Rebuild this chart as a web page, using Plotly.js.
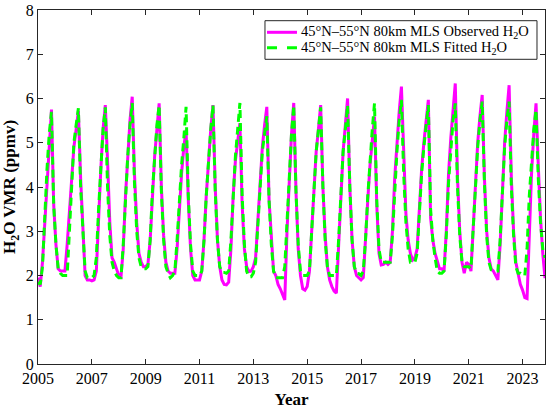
<!DOCTYPE html>
<html>
<head>
<meta charset="utf-8">
<script src="https://cdn.plot.ly/plotly-3.0.1.min.js"></script>
<style>html,body{margin:0;padding:0;background:#fff;}#chart{width:550px;height:410px;}</style>
</head>
<body>
<div id="chart"></div>
<script>
// Monthly values Jan 2005 .. Nov 2023
const startYear = 2005;
const xTickVals = [2005, 2007, 2009, 2011, 2013, 2015, 2017, 2019, 2021, 2023];
const xTickText = ['2005', '2007', '2009', '2011', '2013', '2015', '2017', '2019', '2021', '2023'];
const observed = [
  1.95, 1.75, 2.3, 3.2, 4.2, 5.1, 5.75, 3.6, 2.7, 2.15, 2.1, 2.1,      // 2005
  2.1, 2.7, 3.5, 4.3, 4.9, 5.3, 5.72, 4.2, 2.9, 2.0, 1.9, 1.9,         // 2006
  1.88, 1.9, 2.1, 3.3, 4.4, 5.3, 5.85, 4.6, 3.2, 2.4, 2.3, 2.15,       // 2007
  2.0, 1.97, 2.6, 3.8, 4.8, 5.5, 6.04, 4.3, 3.2, 2.5, 2.3, 2.2,        // 2008
  2.2, 2.25, 2.8, 3.8, 4.7, 5.3, 5.89, 4.0, 2.9, 2.3, 2.1, 2.05,       // 2009
  2.05, 2.05, 2.6, 3.6, 4.3, 4.9, 5.29, 3.7, 2.6, 2.0, 1.9, 1.9,       // 2010
  1.9, 2.1, 2.8, 3.8, 4.7, 5.3, 5.85, 4.0, 2.8, 2.2, 1.9, 1.8,         // 2011
  1.79, 1.85, 2.6, 3.8, 4.6, 5.0, 5.44, 3.6, 2.6, 2.2, 2.09, 2.1,      // 2012
  2.2, 2.4, 3.3, 4.2, 4.9, 5.4, 5.81, 3.7, 2.8, 2.1, 2.0, 1.8,         // 2013
  1.7, 1.55, 1.45, 3.0, 4.3, 5.2, 5.9, 3.9, 2.6, 2.0, 1.7, 1.67,       // 2014
  1.75, 2.1, 3.0, 4.0, 4.8, 5.3, 5.85, 4.0, 2.9, 2.2, 1.9, 1.75,       // 2015
  1.65, 1.6, 2.6, 3.8, 4.8, 5.4, 6.0, 4.0, 2.8, 2.2, 2.0, 1.95,        // 2016
  1.9, 1.95, 2.7, 3.7, 4.5, 5.1, 5.59, 3.6, 2.5, 2.24, 2.25, 2.3,      // 2017
  2.25, 2.3, 3.0, 4.2, 5.0, 5.7, 6.27, 4.6, 3.4, 2.8, 2.5, 2.35,       // 2018
  2.4, 2.6, 3.5, 4.4, 5.0, 5.5, 5.97, 3.3, 2.8, 2.5, 2.3, 2.15,        // 2019
  2.15, 2.1, 3.0, 4.3, 5.1, 5.8, 6.34, 4.2, 3.0, 2.3, 2.05, 2.3,       // 2020
  2.25, 2.1, 3.0, 4.2, 5.0, 5.6, 6.08, 4.2, 3.0, 2.4, 2.15, 2.1,       // 2021
  2.0, 1.9, 2.7, 4.0, 5.0, 5.7, 6.3, 4.2, 3.0, 2.3, 2.05, 1.8,         // 2022
  1.67, 1.5, 1.48, 3.0, 4.3, 5.2, 5.89, 4.5, 3.3, 2.5, 1.94            // 2023
];
const fitted = [
  1.85, 1.8, 2.2, 3.4, 4.4, 5.2, 5.7, 3.6, 2.7, 2.15, 2.05, 2.0,       // 2005
  2.0, 2.0, 3.0, 4.2, 5.0, 5.4, 5.78, 4.0, 2.9, 2.1, 1.95, 1.95,       // 2006
  1.95, 2.0, 2.4, 3.5, 4.5, 5.3, 5.8, 4.0, 2.9, 2.3, 2.1, 2.0,         // 2007
  1.95, 1.95, 2.7, 3.8, 4.7, 5.4, 5.9, 4.1, 3.0, 2.4, 2.2, 2.15,       // 2008
  2.15, 2.2, 2.8, 3.9, 4.7, 5.4, 5.85, 3.9, 2.8, 2.2, 2.05, 1.95,      // 2009
  2.0, 2.1, 2.8, 3.8, 4.5, 5.1, 5.81, 3.8, 2.7, 2.1, 2.0, 2.0,         // 2010
  2.0, 2.1, 2.8, 3.8, 4.7, 5.3, 5.85, 3.9, 2.8, 2.2, 2.07, 2.07,       // 2011
  2.05, 2.1, 2.8, 3.9, 4.7, 5.3, 5.9, 3.8, 2.7, 2.1, 1.97, 1.97,       // 2012
  2.05, 2.3, 3.2, 4.1, 4.8, 5.2, 5.6, 3.7, 2.7, 2.1, 1.95, 1.95,       // 2013
  1.95, 1.95, 2.2, 3.3, 4.4, 5.2, 5.85, 3.9, 2.7, 2.1, 2.0, 2.0,       // 2014
  2.0, 2.1, 3.0, 4.0, 4.8, 5.3, 5.8, 4.0, 2.8, 2.2, 2.0, 2.0,          // 2015
  2.0, 2.0, 2.8, 3.9, 4.8, 5.3, 5.85, 4.0, 2.8, 2.2, 2.05, 2.04,       // 2016
  2.0, 2.1, 2.8, 3.8, 4.6, 5.3, 5.89, 3.7, 2.6, 2.3, 2.3, 2.3,         // 2017
  2.3, 2.3, 2.9, 4.0, 4.8, 5.5, 5.97, 4.3, 3.2, 2.6, 2.3, 2.3,         // 2018
  2.3, 2.5, 3.4, 4.3, 4.9, 5.4, 5.85, 3.5, 2.8, 2.4, 2.1, 2.05,        // 2019
  2.05, 2.1, 2.9, 4.1, 4.9, 5.5, 5.89, 4.0, 2.9, 2.3, 2.2, 2.2,        // 2020
  2.2, 2.15, 3.0, 4.1, 4.9, 5.5, 5.93, 4.1, 2.9, 2.3, 2.13, 2.1,       // 2021
  2.1, 2.1, 2.8, 4.0, 4.9, 5.5, 5.93, 4.0, 2.9, 2.2, 2.05, 2.05,       // 2022
  2.0, 2.0, 2.6, 3.8, 4.6, 5.3, 5.75, 4.2, 3.2, 2.6, 2.4               // 2023
];
const seriesNames = ['45°N–55°N 80km MLS Observed H<sub>2</sub>O', '45°N–55°N 80km MLS Fitted H<sub>2</sub>O'];
const seriesColors = ['#ff00ff', '#00ff00'];

const time = observed.map((v, i) => startYear + i / 12);
const font = 'Liberation Serif, Times New Roman, serif';
const dashPattern = '8px,5px';

const traces = [
  {x: time, y: observed, type: 'scatter', mode: 'lines', name: seriesNames[0],
   line: {color: seriesColors[0], width: 3}},
  {x: time, y: fitted, type: 'scatter', mode: 'lines', name: seriesNames[1],
   line: {color: seriesColors[1], width: 3, dash: dashPattern}}
];

const axisCommon = {
  showline: true, mirror: 'ticks', linecolor: '#262626', linewidth: 1,
  ticks: 'inside', ticklen: 5, tickcolor: '#262626', showgrid: false, zeroline: false,
  tickfont: {family: font, size: 16, color: '#000'}
};

// custom legend (box, sample lines, labels) in paper coordinates
const legendBox = {type: 'rect', xref: 'paper', yref: 'paper', x0: 0.4477, x1: 0.9842, y0: 0.8607, y1: 0.9698,
  line: {color: '#262626', width: 1}, fillcolor: '#fff', layer: 'above'};
const legendRows = [0.937, 0.8935];
const legendShapes = legendRows.map((yy, i) => ({
  type: 'line', xref: 'paper', yref: 'paper', x0: 0.4517, x1: 0.5108, y0: yy, y1: yy, layer: 'above',
  line: {color: seriesColors[i], width: 3, dash: i === 1 ? '10px,10px' : 'solid'}
}));
const legendLabels = legendRows.map((yy, i) => ({
  xref: 'paper', yref: 'paper', x: 0.5148, y: yy, xanchor: 'left', yanchor: 'middle',
  text: seriesNames[i], showarrow: false, font: {family: font, size: 14.5, color: '#000'}
}));

const layout = {
  width: 550, height: 410,
  margin: {l: 38, r: 5, t: 10, b: 46},
  paper_bgcolor: '#fff', plot_bgcolor: '#fff',
  showlegend: false,
  hovermode: false,
  font: {family: font, color: '#000'},
  xaxis: Object.assign({}, axisCommon, {
    range: [2005, startYear + (observed.length - 1) / 12],
    tickvals: xTickVals, ticktext: xTickText,
    title: {text: '<b>Year</b>', font: {family: font, size: 17, color: '#000'}, standoff: 6}
  }),
  yaxis: Object.assign({}, axisCommon, {
    range: [0, 8], dtick: 1, tick0: 0,
    title: {text: '<b>H<sub>2</sub>O VMR (ppmv)</b>', font: {family: font, size: 17, color: '#000'}, standoff: 8}
  }),
  shapes: [legendBox].concat(legendShapes),
  annotations: legendLabels
};

Plotly.newPlot('chart', traces, layout, {displayModeBar: false, staticPlot: true});
</script>
</body>
</html>
